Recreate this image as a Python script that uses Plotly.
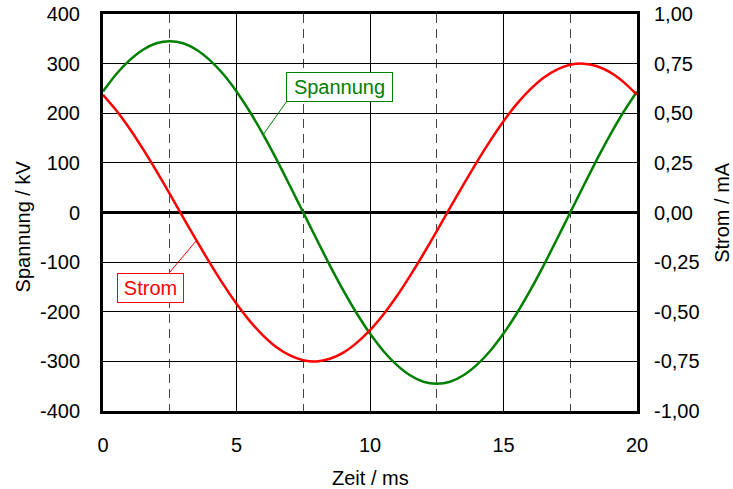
import plotly.graph_objects as go

# Zeitachse in ms (Abtastung alle 0,5 ms)
T_MS = [0.0, 0.5, 1.0, 1.5, 2.0, 2.5, 3.0, 3.5, 4.0, 4.5,
        5.0, 5.5, 6.0, 6.5, 7.0, 7.5, 8.0, 8.5, 9.0, 9.5,
        10.0, 10.5, 11.0, 11.5, 12.0, 12.5, 13.0, 13.5, 14.0, 14.5,
        15.0, 15.5, 16.0, 16.5, 17.0, 17.5, 18.0, 18.5, 19.0, 19.5, 20.0]

# Spannung in kV
U_KV = [244, 279, 307, 328, 341, 345, 341, 328, 307, 279,
        244, 203, 157, 107, 54, 0, -54, -107, -157, -203,
        -244, -279, -307, -328, -341, -345, -341, -328, -307, -279,
        -244, -203, -157, -107, -54, 0, 54, 107, 157, 203, 244]

# Strom in mA
I_MA = [0.593, 0.514, 0.422, 0.319, 0.209, 0.094, -0.024, -0.141, -0.254, -0.361,
        -0.460, -0.547, -0.620, -0.679, -0.720, -0.744, -0.750, -0.737, -0.706, -0.657,
        -0.593, -0.514, -0.422, -0.319, -0.209, -0.094, 0.024, 0.141, 0.254, 0.361,
        0.460, 0.547, 0.620, 0.679, 0.720, 0.744, 0.750, 0.737, 0.706, 0.657, 0.593]

X_TICKS = [0, 5, 10, 15, 20]
Y_TICKS = [-400, -300, -200, -100, 0, 100, 200, 300, 400]
Y_TICK_TEXT = ["-400", "-300", "-200", "-100", "0", "100", "200", "300", "400"]
Y2_TICKS = [-1.0, -0.75, -0.5, -0.25, 0.0, 0.25, 0.5, 0.75, 1.0]
Y2_TICK_TEXT = ["-1,00", "-0,75", "-0,50", "-0,25", "0,00", "0,25", "0,50", "0,75", "1,00"]

GREEN = "#008000"
RED = "#ff0000"
FONT = "Liberation Sans, Arial, sans-serif"

fig = go.Figure()
fig.add_trace(go.Scatter(x=T_MS, y=U_KV, mode="lines", name="Spannung",
                         line=dict(color=GREEN, width=2.5, shape="spline", smoothing=0.6),
                         yaxis="y"))
fig.add_trace(go.Scatter(x=T_MS, y=I_MA, mode="lines", name="Strom",
                         line=dict(color=RED, width=2.5, shape="spline", smoothing=0.6),
                         yaxis="y2"))

# Beschriftungsfelder mit Verbindungslinie zur Kurve
iu = T_MS.index(6.0)
ii = T_MS.index(3.5)
fig.add_shape(type="line", xref="x", yref="y", x0=T_MS[iu], y0=U_KV[iu], x1=6.87, y1=223,
              line=dict(color=GREEN, width=1))
fig.add_shape(type="line", xref="x", yref="y2", x0=T_MS[ii], y0=I_MA[ii], x1=2.48, y1=-0.304,
              line=dict(color=RED, width=1))

fig.add_annotation(x=6.87, y=223, xref="x", yref="y", xanchor="left", yanchor="bottom",
                   text="Spannung", showarrow=False, font=dict(family=FONT, size=20, color=GREEN),
                   bgcolor="white", bordercolor=GREEN, borderwidth=1, borderpad=1,
                   width=103, height=26)
fig.add_annotation(x=0.535, y=-0.305, xref="x", yref="y2", xanchor="left", yanchor="top",
                   text="Strom", showarrow=False, font=dict(family=FONT, size=20, color=RED),
                   bgcolor="white", bordercolor=RED, borderwidth=1, borderpad=1,
                   width=63, height=26)

# Achsentitel
fig.add_annotation(x=-0.149, y=0.466, xref="paper", yref="paper", text="Spannung / kV",
                   textangle=-90, showarrow=False, xanchor="center", yanchor="middle",
                   font=dict(family=FONT, size=20, color="black"))
fig.add_annotation(x=1.158, y=0.5, xref="paper", yref="paper", text="Strom / mA",
                   textangle=-90, showarrow=False, xanchor="center", yanchor="middle",
                   font=dict(family=FONT, size=20, color="black"))
fig.add_annotation(x=0.5, y=-0.169, xref="paper", yref="paper", text="Zeit / ms",
                   showarrow=False, xanchor="center", yanchor="middle",
                   font=dict(family=FONT, size=20, color="black"))

fig.update_layout(
    width=733, height=489,
    margin=dict(l=103, r=96, t=14, b=78, autoexpand=False),
    paper_bgcolor="white", plot_bgcolor="white",
    showlegend=False,
    font=dict(family=FONT, size=20, color="black"),
    xaxis=dict(range=[0, 20], tickvals=X_TICKS, showgrid=True, gridcolor="black", gridwidth=1,
               ticks="", ticklabelstandoff=14, automargin=False,
               minor=dict(dtick=2.5, tick0=0, showgrid=True, gridcolor="#444444",
                          gridwidth=1, griddash="9px,6px"),
               showline=True, linecolor="black", linewidth=3, mirror=True,
               zeroline=False, tickfont=dict(size=20)),
    yaxis=dict(range=[-400, 400], tickvals=Y_TICKS, ticktext=Y_TICK_TEXT,
               showgrid=True, gridcolor="black", gridwidth=1,
               zeroline=True, zerolinecolor="black", zerolinewidth=3,
               ticks="", ticklabelstandoff=16, automargin=False,
               showline=True, linecolor="black", linewidth=3, mirror=True,
               tickfont=dict(size=20)),
    yaxis2=dict(range=[-1, 1], tickvals=Y2_TICKS, ticktext=Y2_TICK_TEXT,
                overlaying="y", side="right", showgrid=False, zeroline=False,
                ticks="", ticklabelstandoff=16, showline=False, automargin=False,
                tickfont=dict(size=20)),
)

fig.write_html("out.html")
